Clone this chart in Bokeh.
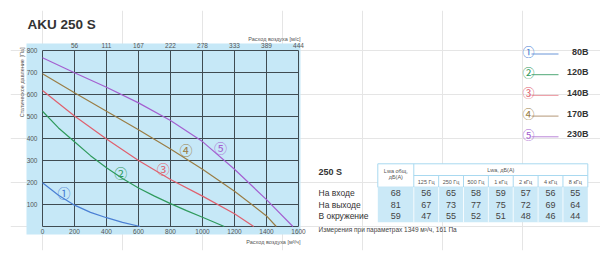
from bokeh.plotting import figure
from bokeh.models import LinearAxis, FixedTicker, Range1d, ColumnDataSource
from bokeh.core.properties import value
from bokeh.embed import file_html
from bokeh.resources import INLINE
import math

# ---------------- data ----------------
title = "AKU 250 S"
flow_ticks = [0, 200, 400, 600, 800, 1000, 1200, 1400, 1600]
pressure_ticks = [0, 100, 200, 300, 400, 500, 600, 700, 800]
velocity_ticks = [200, 400, 600, 800, 1000, 1200, 1400, 1600]
velocity_labels = ["56", "111", "167", "222", "278", "333", "389", "444"]

blue_x = [0, 100, 200, 300, 400, 500, 610]
blue_y = [199, 142, 97, 64, 40, 19, 0]
green_x = [0, 100, 200, 300, 400, 500, 600, 700, 800, 900, 1000, 1136]
green_y = [524, 448, 385, 322, 267, 218, 175, 138, 104, 72, 42, 0]
red_x = [0, 200, 400, 600, 800, 1000, 1200, 1320]
red_y = [618, 502, 398, 300, 214, 138, 58, 0]
brown_x = [0, 200, 400, 600, 800, 1000, 1200, 1400, 1461]
brown_y = [694, 608, 524, 440, 352, 260, 160, 48, 0]
purple_x = [0, 200, 400, 600, 800, 1000, 1200, 1400, 1565]
purple_y = [767, 699, 633, 562, 482, 386, 260, 122, 0]

curve_marks = ["①", "②", "③", "④", "⑤"]
mark_x = [134, 489, 754, 897, 1112]
mark_y = [156, 247, 265, 349, 358]
voltages = ["80В", "120В", "140В", "170В", "230В"]

table_name = "250 S"
row_labels = ["На входе", "На выходе", "В окружение"]
total_lwa = [68, 81, 59]
octave_labels = ["125 Гц", "250 Гц", "500 Гц", "1 кГц", "2 кГц", "4 кГц", "8 кГц"]
inlet = [56, 65, 58, 59, 57, 56, 55]
outlet = [67, 73, 77, 75, 72, 69, 64]
surround = [47, 55, 52, 51, 48, 46, 44]
footnote = "Измерения при параметрах 1349 м³/ч, 161 Па"

# ---------------- styles / geometry ----------------
FONT = "Liberation Sans"
CJK = "Noto Sans CJK JP"
BG = "#c6e8f7"
GRID = "#3f4b52"
TXT = "#555555"
line_colors = ["#4a7fd4", "#2f9a5c", "#e0606e", "#9a7d45", "#a45fd0"]
legend_colors = ["#6a96d8", "#4fa877", "#ec98a0", "#b49878", "#b985d8"]

W, H = 600, 260
B_L, B_R, B_T, B_B = 10, 0, 10, 10          # borders around the frame
GX0, GX1 = 42, 298                           # pixel span of flow 0..1600
GY0, GY1 = 226, 50                           # pixel span of pressure 0..800
sx = (GX1 - GX0) / 1600.0
sy = (GY0 - GY1) / 800.0
x_start = (B_L - GX0) / sx
x_end = (W - B_R - GX0) / sx
y_start = -((H - B_B) - GY0) / sy
y_end = (GY0 - B_T) / sy

p = figure(width=W, height=H,
           x_range=Range1d(x_start, x_end), y_range=Range1d(y_start, y_end),
           output_backend="svg", toolbar_location=None,
           x_axis_location=None, y_axis_location=None,
           min_border_left=B_L, min_border_right=B_R,
           min_border_top=B_T, min_border_bottom=B_B)
p.background_fill_color = "white"
p.border_fill_color = "white"
p.outline_line_color = None
p.extra_x_ranges = {"px": Range1d(B_L, W - B_R)}
p.extra_y_ranges = {"px": Range1d(H - B_B, B_T)}

def px_kw():
    return dict(x_range_name="px", y_range_name="px")

# blue chart panel
p.quad(left=[26], right=[300], top=[43], bottom=[234], fill_color=BG,
       line_color=None, **px_kw())

# grid (drawn from the tick arrays through the data scales)
p.segment(x0=flow_ticks, y0=[0] * len(flow_ticks), x1=flow_ticks,
          y1=[800] * len(flow_ticks), line_color=GRID, line_width=1)
p.segment(x0=[0] * len(pressure_ticks), y0=pressure_ticks,
          x1=[1600] * len(pressure_ticks), y1=pressure_ticks,
          line_color=GRID, line_width=1)

def style_axis(ax, standoff):
    ax.major_tick_line_color = None
    ax.minor_tick_line_color = None
    ax.axis_line_color = None
    ax.major_label_text_font = FONT
    ax.major_label_text_font_size = "6.5px"
    ax.major_label_text_color = TXT
    ax.major_label_standoff = standoff

ax_b = LinearAxis(ticker=FixedTicker(ticks=flow_ticks))
style_axis(ax_b, -28)
p.add_layout(ax_b, "below")

ax_l = LinearAxis(ticker=FixedTicker(ticks=pressure_ticks[1:]))
style_axis(ax_l, -33)
p.add_layout(ax_l, "left")

ax_t = LinearAxis(ticker=FixedTicker(ticks=velocity_ticks),
                  major_label_overrides={t: v for t, v in zip(velocity_ticks, velocity_labels)})
style_axis(ax_t, -43)
p.add_layout(ax_t, "above")

curves = [(blue_x, blue_y), (green_x, green_y), (red_x, red_y),
          (brown_x, brown_y), (purple_x, purple_y)]
for (cx, cy), c in zip(curves, line_colors):
    p.line(cx, cy, line_color=c, line_width=1.2)

src = ColumnDataSource(dict(x=mark_x, y=mark_y, t=curve_marks, c=line_colors))
p.text(x="x", y="y", text="t", text_color="c", source=src,
       text_font=value(CJK), text_font_size="13px",
       text_align="center", text_baseline="middle")

# chart texts
p.text(x=[27], y=[24], text=[title], text_color="#333333",
       text_font=value(FONT), text_font_size="13.5px", text_font_style="bold",
       text_align="left", text_baseline="middle", **px_kw())
p.text(x=[21], y=[47], text=["Статическое давление [Па]"], angle=math.pi / 2,
       text_color=TXT, text_font=value(FONT), text_font_size="5.5px",
       text_align="right", text_baseline="middle", **px_kw())
p.text(x=[300, 300], y=[38, 241], text=["Расход воздуха [м/с]", "Расход воздуха [м³/ч]"],
       text_color=TXT, text_font=value(FONT), text_font_size="5.5px",
       text_align="right", text_baseline="middle", **px_kw())

# legend
leg_y = [51 + i * 20.7 for i in range(len(voltages))]
p.segment(x0=[531] * 5, y0=[y + 2.5 for y in leg_y], x1=[558] * 5,
          y1=[y + 2.5 for y in leg_y], line_color=legend_colors, line_width=1,
          **px_kw())
p.text(x=[528] * 5, y=leg_y, text=curve_marks, text_color=line_colors,
       text_font=value(CJK), text_font_size="12px",
       text_align="center", text_baseline="middle", **px_kw())
p.text(x=[588] * 5, y=leg_y, text=voltages, text_color="#333333",
       text_font=value(FONT), text_font_size="9px", text_font_style="bold",
       text_align="right", text_baseline="middle", **px_kw())

# table
tx0, tx1 = 377.3, 587.3
c1 = 413.3
cw = (tx1 - c1) / 7
h_top, h_mid, h_bot = 163.3, 175.0, 186.7
row_h = 11.7
d_bot = h_bot + row_h * 3
LBL_X = 318
TB = "#a9d9f0"
CELL = "#cbe9f7"

p.text(x=[LBL_X], y=[171], text=[table_name], text_color="#333333",
       text_font=value(FONT), text_font_size="9px", text_font_style="bold",
       text_align="left", text_baseline="middle", **px_kw())

p.quad(left=[tx0], right=[tx1], top=[h_top], bottom=[h_bot],
       fill_color="white", line_color=TB, line_width=1, **px_kw())
p.segment(x0=[c1], y0=[h_top], x1=[c1], y1=[h_bot], line_color=TB, **px_kw())
p.segment(x0=[c1], y0=[h_mid], x1=[tx1], y1=[h_mid], line_color=TB, **px_kw())
oct_div = [c1 + cw * k for k in range(1, 7)]
p.segment(x0=oct_div, y0=[h_mid] * 6, x1=oct_div, y1=[h_bot] * 6,
          line_color=TB, **px_kw())

p.text(x=[(tx0 + c1) / 2] * 2, y=[170.5, 176.8], text=["Lwa общ,", "дБ(А)"],
       text_color=TXT, text_font=value(FONT), text_font_size="5.5px",
       text_align="center", text_baseline="middle", **px_kw())
p.text(x=[(c1 + tx1) / 2], y=[169.3], text=["Lwa, дБ(А)"],
       text_color=TXT, text_font=value(FONT), text_font_size="5.5px",
       text_align="center", text_baseline="middle", **px_kw())
oct_cx = [c1 + cw * (k + 0.5) for k in range(7)]
p.text(x=oct_cx, y=[181] * 7, text=octave_labels, text_color=TXT,
       text_font=value(FONT), text_font_size="5.5px",
       text_align="center", text_baseline="middle", **px_kw())

p.quad(left=[tx0], right=[tx1], top=[h_bot], bottom=[d_bot],
       fill_color=CELL, line_color=None, **px_kw())
all_div = [c1] + oct_div
p.segment(x0=all_div, y0=[h_bot] * 7, x1=all_div, y1=[d_bot] * 7,
          line_color="white", line_width=0.8, **px_kw())

rows_vals = [inlet, outlet, surround]
for r, (lab, tot, vals) in enumerate(zip(row_labels, total_lwa, rows_vals)):
    yy = h_bot + row_h * (r + 0.5)
    p.text(x=[LBL_X], y=[yy], text=[lab], text_color="#333333",
           text_font=value(FONT), text_font_size="8.5px",
           text_align="left", text_baseline="middle", **px_kw())
    p.text(x=[(tx0 + c1) / 2] + oct_cx, y=[yy] * 8,
           text=[str(tot)] + [str(v) for v in vals], text_color="#444444",
           text_font=value(FONT), text_font_size="9px",
           text_align="center", text_baseline="middle", **px_kw())

p.text(x=[LBL_X], y=[229], text=[footnote], text_color="#444444",
       text_font=value(FONT), text_font_size="6.5px",
       text_align="left", text_baseline="middle", **px_kw())

open("out.html", "w").write(file_html(p, INLINE))
